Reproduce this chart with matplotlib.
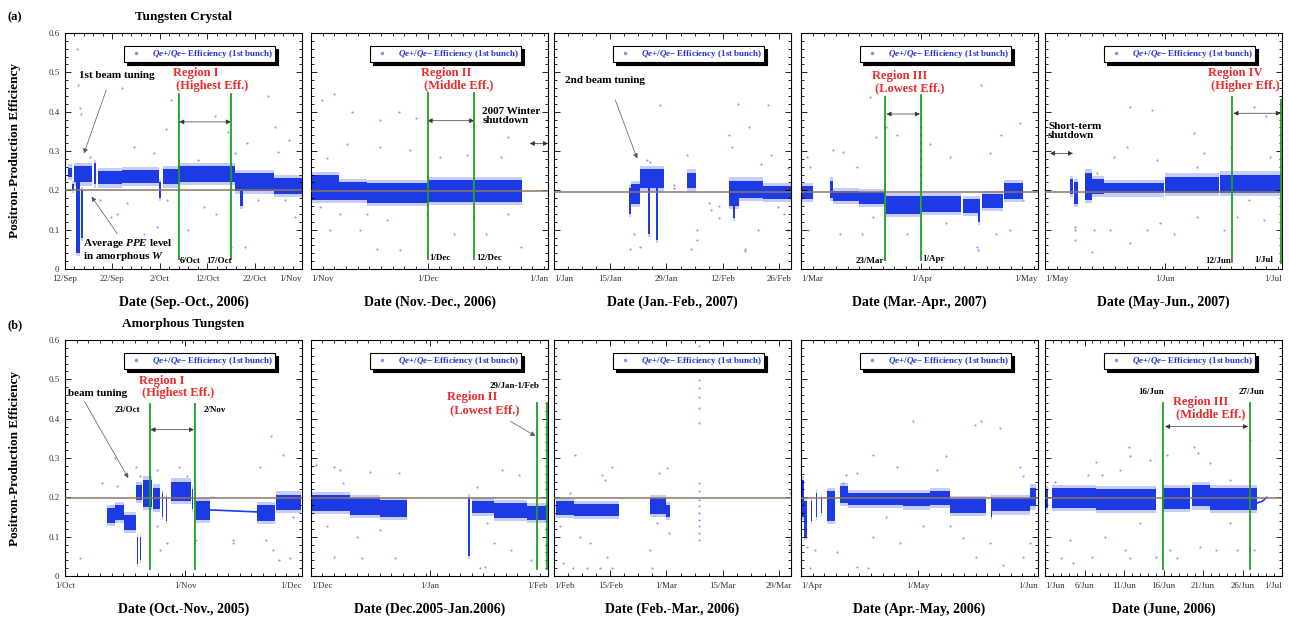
import matplotlib
matplotlib.use("Agg")
import matplotlib.pyplot as plt
import matplotlib.dates as mdates
from matplotlib.lines import Line2D
import numpy as np

plt.rcParams["font.family"] = ["Liberation Serif", "DejaVu Serif"]
plt.rcParams["mathtext.fontset"] = "custom"
plt.rcParams["mathtext.it"] = "Liberation Serif:italic:bold"
plt.rcParams["mathtext.rm"] = "Liberation Serif:bold"
plt.rcParams["mathtext.bf"] = "Liberation Serif:bold"

BLUE = "#1c3be4"
LIGHT = "#8591f0"
GREEN = "#1f9e1f"
AVG = "#8c766a"
RED = "#ee2b2b"
LEG_TXT = "#2233dd"

# ---- data: dense bands (day0, day1, low, high) and scattered points (day, value)
# days are counted from the first date of each panel
A1_TICKS = ["2006-09-12", "2006-09-22", "2006-10-02", "2006-10-12", "2006-10-22", "2006-11-01"]
A1_BAND = [(0.6, 1.4, 0.235, 0.258), (1.4, 1.8, 0.200, 0.215), (2.0, 5.6, 0.220, 0.262),
           (2.4, 3.2, 0.040, 0.220), (3.4, 3.7, 0.080, 0.200), (6.2, 6.6, 0.215, 0.270),
           (7.0, 12.0, 0.215, 0.250), (12.0, 19.9, 0.218, 0.252), (19.9, 20.3, 0.180, 0.220),
           (20.6, 23.8, 0.215, 0.255), (23.8, 35.8, 0.222, 0.262), (35.8, 44.0, 0.198, 0.243),
           (37.0, 37.5, 0.160, 0.200), (44.0, 50.4, 0.190, 0.232)]
A1_PTS = [(2.6, 0.56), (2.8, 0.468), (3.1, 0.41), (3.4, 0.395), (12.1, 0.46), (22.3, 0.43),
          (21.3, 0.357), (31.6, 0.39), (44.3, 0.36), (42.9, 0.44), (45.0, 0.298), (9.6, 0.133),
          (11.0, 0.14), (16.7, 0.09), (25.9, 0.099), (35.1, 0.056), (37.9, 0.056), (29.4, 0.158),
          (48.6, 0.133), (14.5, 0.31), (35.8, 0.294), (18.8, 0.294), (5.3, 0.285), (28.0, 0.277),
          (34.4, 0.349), (38.3, 0.32), (47.2, 0.328), (40.8, 0.175), (46.5, 0.175), (21.6, 0.175),
          (13.1, 0.167), (7.4, 0.175), (31.9, 0.141), (19.5, 0.107)]

A2_TICKS = ["2006-11-01", "2006-12-01", "2007-01-01"]
A2_BAND = [(0.0, 7.1, 0.176, 0.238), (7.3, 14.3, 0.176, 0.222), (14.5, 30.0, 0.168, 0.218),
           (30.0, 37.5, 0.171, 0.226), (37.7, 41.8, 0.171, 0.226), (42.0, 54.4, 0.171, 0.226)]
A2_PTS = [(5.8, 0.444), (2.8, 0.43), (10.5, 0.40), (22.6, 0.40), (17.8, 0.378), (26.9, 0.383),
          (4.0, 0.281), (9.2, 0.319), (17.8, 0.31), (25.6, 0.302), (33.3, 0.285), (48.8, 0.285),
          (50.6, 0.336), (40.2, 0.29), (4.9, 0.099), (12.7, 0.099), (17.0, 0.052), (23.0, 0.048),
          (36.8, 0.09), (45.0, 0.09), (54.0, 0.056), (50.6, 0.141), (29.9, 0.141), (19.6, 0.124),
          (7.5, 0.141), (2.3, 0.158), (42.0, 0.133), (14.4, 0.141)]

A3_TICKS = ["2007-01-01", "2007-01-15", "2007-01-29", "2007-02-12", "2007-02-26"]
A3_BAND = [(18.6, 19.2, 0.140, 0.205), (19.2, 21.4, 0.165, 0.215), (21.5, 27.3, 0.205, 0.255),
           (23.5, 23.9, 0.090, 0.205), (25.5, 25.9, 0.075, 0.205), (33.2, 35.4, 0.205, 0.245),
           (43.6, 46.1, 0.160, 0.225), (44.6, 45.0, 0.130, 0.170), (46.1, 52.0, 0.180, 0.225),
           (52.0, 59.0, 0.178, 0.210)]
A3_PTS = [(19.0, 0.052), (21.5, 0.056), (24.0, 0.273), (26.3, 0.417), (33.2, 0.29), (34.0, 0.052),
          (35.7, 0.099), (35.7, 0.073), (38.6, 0.167), (39.0, 0.15), (29.8, 0.213), (29.9, 0.205),
          (43.6, 0.34), (44.4, 0.31), (45.7, 0.42), (48.6, 0.362), (50.7, 0.099), (47.5, 0.052),
          (47.5, 0.045), (51.5, 0.268), (53.2, 0.417), (54.0, 0.29), (58.2, 0.256), (58.2, 0.099),
          (57.3, 0.141), (55.7, 0.158), (19.8, 0.09), (23.2, 0.277), (41.0, 0.16), (41.0, 0.13)]

A4_TICKS = ["2007-03-01", "2007-04-01", "2007-05-01"]
A4_BAND = [(0.0, 3.2, 0.178, 0.210), (7.5, 8.2, 0.180, 0.225), (8.2, 15.0, 0.172, 0.198),
           (15.0, 21.6, 0.165, 0.195), (22.0, 30.6, 0.140, 0.185), (30.8, 41.3, 0.145, 0.185),
           (41.8, 46.0, 0.142, 0.178), (45.6, 46.0, 0.120, 0.160), (46.5, 52.0, 0.155, 0.190),
           (52.2, 57.2, 0.178, 0.218)]
A4_PTS = [(1.5, 0.285), (2.3, 0.26), (1.9, 0.099), (10.9, 0.298), (17.7, 0.438), (19.4, 0.336),
          (22.0, 0.362), (24.6, 0.34), (38.3, 0.285), (46.4, 0.468), (48.6, 0.294), (51.6, 0.34),
          (56.3, 0.37), (10.0, 0.09), (15.6, 0.09), (18.6, 0.133), (27.2, 0.09), (37.4, 0.116),
          (45.2, 0.056), (45.6, 0.048), (50.3, 0.09), (53.9, 0.099), (8.3, 0.302), (14.3, 0.26),
          (33.2, 0.319), (57.2, 0.175), (31.0, 0.383), (31.0, 0.36), (31.0, 0.34), (31.0, 0.32),
          (31.0, 0.30), (31.0, 0.28), (31.0, 0.26), (31.0, 0.24), (31.0, 0.22)]

A5_TICKS = ["2007-05-01", "2007-06-01", "2007-07-01"]
A5_BAND = [(6.5, 7.2, 0.190, 0.228), (7.4, 8.6, 0.165, 0.220), (10.3, 12.1, 0.175, 0.245),
           (12.1, 15.1, 0.190, 0.228), (15.1, 30.6, 0.192, 0.218), (31.0, 44.8, 0.193, 0.235),
           (45.0, 60.7, 0.193, 0.240)]
A5_PTS = [(21.9, 0.413), (27.6, 0.404), (21.1, 0.311), (28.8, 0.277), (38.3, 0.345), (39.2, 0.26),
          (40.9, 0.294), (47.8, 0.311), (53.8, 0.413), (56.9, 0.39), (57.8, 0.285), (17.7, 0.285),
          (13.4, 0.243), (12.5, 0.099), (12.1, 0.044), (16.8, 0.099), (22.0, 0.065), (26.3, 0.099),
          (29.7, 0.116), (33.2, 0.09), (39.2, 0.133), (46.1, 0.099), (49.5, 0.133), (56.4, 0.124),
          (52.6, 0.175), (7.8, 0.099), (7.8, 0.107), (7.6, 0.073)]

B1_TICKS = ["2005-10-01", "2005-11-01", "2005-12-01"]
B1_BAND = [(10.7, 12.9, 0.134, 0.172), (12.9, 15.2, 0.143, 0.181), (15.3, 18.3, 0.118, 0.155),
           (18.4, 19.7, 0.194, 0.232), (18.5, 18.8, 0.030, 0.100), (19.2, 19.5, 0.040, 0.100),
           (20.1, 22.5, 0.175, 0.245), (22.6, 24.5, 0.170, 0.225), (25.0, 25.3, 0.150, 0.210),
           (26.0, 26.3, 0.140, 0.200), (27.4, 32.4, 0.190, 0.240), (32.6, 32.9, 0.170, 0.220),
           (33.6, 37.3, 0.143, 0.190), (49.3, 54.0, 0.140, 0.180), (54.2, 60.8, 0.168, 0.207)]
B1_LINE_X = [37.3, 49.3]
B1_LINE_Y = [0.168, 0.163]
B1_PTS = [(3.9, 0.045), (12.9, 0.3), (9.6, 0.236), (18.4, 0.278), (19.3, 0.253), (23.6, 0.27),
          (29.3, 0.278), (31.3, 0.253), (23.6, 0.126), (26.2, 0.083), (24.4, 0.066), (33.8, 0.092),
          (43.3, 0.083), (50.1, 0.278), (51.8, 0.092), (53.5, 0.066), (55.2, 0.041), (53.1, 0.355),
          (56.1, 0.308), (57.8, 0.045), (58.7, 0.151), (13.3, 0.228), (37.9, 0.202), (43.3, 0.092)]

B2_TICKS = ["2005-12-01", "2006-01-01", "2006-02-01"]
B2_BAND = [(0.2, 10.2, 0.165, 0.205), (10.2, 18.0, 0.155, 0.198), (18.0, 25.1, 0.150, 0.192),
           (41.1, 41.7, 0.050, 0.200), (42.2, 47.9, 0.160, 0.190), (47.9, 56.6, 0.148, 0.186),
           (56.6, 62.0, 0.142, 0.177)]
B2_PTS = [(1.2, 0.283), (5.9, 0.278), (7.6, 0.27), (15.5, 0.265), (23.0, 0.261), (8.5, 0.236),
          (13.3, 0.045), (5.9, 0.049), (4.1, 0.126), (18.1, 0.117), (12.0, 0.1), (22.1, 0.045),
          (44.2, 0.02), (45.6, 0.024), (50.0, 0.27), (54.4, 0.257), (47.9, 0.083), (52.2, 0.066),
          (57.5, 0.041), (59.2, 0.1), (43.5, 0.227), (46.1, 0.134)]

B3_TICKS = ["2006-02-01", "2006-02-15", "2006-03-01", "2006-03-15", "2006-03-29"]
B3_BAND = [(0.5, 5.0, 0.155, 0.190), (5.0, 16.1, 0.152, 0.182), (23.8, 28.0, 0.158, 0.198),
           (28.0, 28.8, 0.150, 0.180)]
B3_PTS = [(5.25, 0.308), (4.0, 0.21), (11.9, 0.257), (14.4, 0.278), (12.8, 0.244), (24.0, 0.066),
          (24.4, 0.02), (26.1, 0.261), (28.2, 0.274), (4.8, 0.02), (8.2, 0.02), (11.5, 0.02),
          (14.4, 0.02), (2.3, 0.033), (9.0, 0.083), (13.2, 0.049), (6.5, 0.1), (1.5, 0.126),
          (28.6, 0.109), (25.7, 0.134), (58.7, 0.21), (58.7, 0.083), (58.7, 0.066), (58.5, 0.092),
          (36.2, 0.584), (36.2, 0.563), (36.2, 0.541), (36.2, 0.52), (36.2, 0.499), (36.2, 0.478),
          (36.2, 0.456), (36.2, 0.427), (36.2, 0.389), (36.2, 0.236), (36.2, 0.215), (36.2, 0.194),
          (36.2, 0.177), (36.2, 0.16), (36.2, 0.143), (36.2, 0.126), (36.2, 0.109), (36.2, 0.092)]

B4_TICKS = ["2006-04-01", "2006-05-01", "2006-06-01"]
B4_BAND = [(0.0, 0.7, 0.150, 0.245), (0.7, 1.5, 0.100, 0.190), (2.6, 2.9, 0.140, 0.190),
           (3.9, 4.2, 0.150, 0.210), (5.2, 5.5, 0.160, 0.200), (6.8, 8.7, 0.140, 0.215),
           (10.0, 12.2, 0.185, 0.228), (12.2, 26.3, 0.181, 0.210), (26.3, 33.2, 0.177, 0.210),
           (33.2, 38.3, 0.181, 0.215), (38.3, 47.7, 0.160, 0.196), (48.9, 49.2, 0.150, 0.200),
           (49.2, 58.9, 0.164, 0.198), (58.9, 60.6, 0.177, 0.225)]
B4_PTS = [(1.5, 0.075), (2.3, 0.02), (3.7, 0.066), (9.2, 0.062), (11.7, 0.257), (14.3, 0.261),
          (18.6, 0.308), (24.6, 0.278), (28.9, 0.393), (34.9, 0.27), (37.4, 0.304), (44.7, 0.384),
          (46.4, 0.393), (51.2, 0.376), (56.3, 0.278), (57.2, 0.253), (22.0, 0.151), (18.6, 0.1),
          (14.3, 0.024), (17.3, 0.02), (25.4, 0.083), (31.4, 0.126), (41.7, 0.096), (45.1, 0.049),
          (48.6, 0.083), (52.0, 0.028), (57.2, 0.049), (58.9, 0.083), (10.9, 0.236), (38.3, 0.126)]

B5_TICKS = ["2006-06-01", "2006-06-06", "2006-06-11", "2006-06-16", "2006-06-21", "2006-06-26",
            "2006-07-01"]
B5_BAND = [(0.0, 0.4, 0.172, 0.220), (0.85, 6.5, 0.172, 0.224), (6.5, 14.1, 0.168, 0.220),
           (14.8, 18.4, 0.170, 0.223), (18.6, 20.9, 0.177, 0.232), (20.9, 26.8, 0.168, 0.223)]
B5_LINE_X = [26.8, 27.5, 28.1]
B5_LINE_Y = [0.185, 0.19, 0.2]
B5_PTS = [(10.6, 0.329), (10.8, 0.304), (6.5, 0.291), (5.5, 0.257), (7.2, 0.257), (9.5, 0.27),
          (13.3, 0.295), (15.5, 0.308), (18.8, 0.329), (19.4, 0.312), (20.9, 0.287), (23.4, 0.244),
          (25.9, 0.346), (1.3, 0.24), (3.2, 0.092), (2.0, 0.045), (3.6, 0.033), (5.9, 0.049),
          (10.1, 0.066), (10.8, 0.045), (14.1, 0.049), (15.8, 0.066), (16.7, 0.045), (19.6, 0.075),
          (21.7, 0.066), (24.3, 0.066), (26.4, 0.066), (7.6, 0.1), (12.0, 0.134), (23.4, 0.134)]

AVG_A = [0.200, 0.199, 0.197, 0.195, 0.195]
AVG_B = [0.199, 0.198, 0.198, 0.198, 0.198]
MINOR_A = [2, 3, 3.5, 3, 3]
MINOR_B = [3, 3, 3.5, 3, 1]
XLAB_A = ["Date (Sep.-Oct., 2006)", "Date (Nov.-Dec., 2006)", "Date (Jan.-Feb., 2007)",
          "Date (Mar.-Apr., 2007)", "Date (May-Jun., 2007)"]
XLAB_B = ["Date (Oct.-Nov., 2005)", "Date (Dec.2005-Jan.2006)", "Date (Feb.-Mar., 2006)",
          "Date (Apr.-May, 2006)", "Date (June, 2006)"]
END_A = ["2006-11-01", "2007-01-01", "2007-03-01", "2007-05-01", "2007-07-01"]
END_B = ["2005-12-01", "2006-02-01", "2006-04-01", "2006-06-01", "2006-07-01"]

TICKS_A = [A1_TICKS, A2_TICKS, A3_TICKS, A4_TICKS, A5_TICKS]
TICKS_B = [B1_TICKS, B2_TICKS, B3_TICKS, B4_TICKS, B5_TICKS]
BANDS_A = [A1_BAND, A2_BAND, A3_BAND, A4_BAND, A5_BAND]
BANDS_B = [B1_BAND, B2_BAND, B3_BAND, B4_BAND, B5_BAND]
PTS_A = [A1_PTS, A2_PTS, A3_PTS, A4_PTS, A5_PTS]
PTS_B = [B1_PTS, B2_PTS, B3_PTS, B4_PTS, B5_PTS]

LEG_LABEL = r"$Qe{+}/Qe{-}$ Efficiency (1st bunch)"

W, H = 1289, 622
fig = plt.figure(figsize=(W / 100, H / 100), dpi=100)
LEFTS = [65, 311, 554, 801, 1045]
PW, PH = 237, 236
TOPS = [33, 340]


def panel(row, col, ticks, end, band, pts, avg, minor, xlabel):
    left, top = LEFTS[col], TOPS[row]
    ax = fig.add_axes([left / W, 1 - (top + PH) / H, PW / W, PH / H])
    x0 = mdates.datestr2num(ticks[0])
    x1 = mdates.datestr2num(end)
    for d0, d1, lo, hi in band:
        ax.fill_between([x0 + d0, x0 + d1], lo - 0.008, hi + 0.008, color=BLUE, alpha=0.25, lw=0)
        ax.fill_between([x0 + d0, x0 + d1], lo, hi, color=BLUE, lw=0)
    px = x0 + np.array([p[0] for p in pts])
    py = np.array([p[1] for p in pts])
    ax.scatter(px, py, s=2.5, color=LIGHT, lw=0, alpha=0.9)
    ax.axhline(avg, color=AVG, lw=1.1, zorder=4)
    ax.set_xlim(x0, x1)
    ax.set_ylim(0, 0.6)
    tnum = [mdates.datestr2num(t) for t in ticks]
    labels = []
    for t in tnum:
        d = mdates.num2date(t)
        labels.append(f"{d.day}/{d:%b}")
    ax.set_xticks(tnum, labels)
    ax.set_xticks(np.arange(x0, x1, minor), minor=True)
    ax.set_yticks(np.arange(0, 0.61, 0.1))
    ax.set_yticks(np.arange(0, 0.6, 0.02), minor=True)
    ax.tick_params(which="both", direction="in", top=True, right=True, width=0.6,
                   labelsize=6.5, labelcolor="#333333", pad=4)
    ax.tick_params(which="major", length=4)
    ax.tick_params(which="minor", length=2)
    if col == 0:
        ax.set_yticklabels(["0", "0.1", "0.2", "0.3", "0.4", "0.5", "0.6"])
    else:
        ax.tick_params(labelleft=False)
    for t, lab in zip(tnum, ax.get_xticklabels()):
        if t == x0 and col > 0:
            lab.set_ha("left")
        elif abs(t - x1) < 0.5:
            lab.set_ha("right")
    for s in ax.spines.values():
        s.set_linewidth(0.8)
    ax.set_xlabel(xlabel, fontsize=10, fontweight="bold", labelpad=9)
    h = Line2D([], [], ls="none", marker="o", ms=1.5, color=LIGHT)
    leg = ax.legend(handles=[h], labels=[LEG_LABEL], loc="upper right",
                    bbox_to_anchor=(0.905, 0.962), fancybox=False, framealpha=1,
                    edgecolor="black", shadow={"facecolor": "black", "edgecolor": "black",
                                               "alpha": 1},
                    prop={"weight": "bold", "size": 6.5}, labelcolor=LEG_TXT,
                    handlelength=2.2, handletextpad=0.6, borderpad=0.2)
    leg.get_frame().set_linewidth(0.8)
    leg.set_zorder(10)
    return ax, x0


def green(ax, x0, d, lo, hi):
    ax.plot([x0 + d, x0 + d], [lo, hi], color=GREEN, lw=1.3, zorder=6, clip_on=False)


def span(ax, x0, d0, d1, y):
    ax.annotate("", xy=(x0 + d1, y), xytext=(x0 + d0, y), annotation_clip=False,
                arrowprops=dict(arrowstyle="<|-|>", color="#333333", lw=0.5,
                                mutation_scale=7, shrinkA=0, shrinkB=0))


def pointer(ax, x0, d0, y0, d1, y1):
    ax.annotate("", xy=(x0 + d1, y1), xytext=(x0 + d0, y0), annotation_clip=False,
                arrowprops=dict(arrowstyle="-|>", color="#555555", lw=0.5,
                                mutation_scale=7, shrinkA=0, shrinkB=0))


def label(ax, x0, d, y, s, size=8, color="black", ha="left", va="center", **kw):
    ax.text(x0 + d, y, s, fontsize=size, fontweight="bold", color=color, ha=ha, va=va,
            clip_on=False, zorder=8, linespacing=1.05, **kw)


axA, axB = [], []
for i in range(5):
    axA.append(panel(0, i, TICKS_A[i], END_A[i], BANDS_A[i], PTS_A[i], AVG_A[i], MINOR_A[i],
                     XLAB_A[i]))
    axB.append(panel(1, i, TICKS_B[i], END_B[i], BANDS_B[i], PTS_B[i], AVG_B[i], MINOR_B[i],
                     XLAB_B[i]))

# ---- row (a): tungsten crystal
ax, x0 = axA[0]
label(ax, x0, 3.0, 0.493, "1st beam tuning")
pointer(ax, x0, 8.7, 0.455, 4.0, 0.294)
label(ax, x0, 3.8, 0.048, "Average $PPE$ level\nin amorphous $W$")
pointer(ax, x0, 11.0, 0.09, 5.6, 0.184)
label(ax, x0, 22.8, 0.482, "Region I\n (Highest Eff.)", size=9, color=RED)
span(ax, x0, 24.1, 35.0, 0.374)
green(ax, x0, 24.0, 0.025, 0.445)
green(ax, x0, 35.0, 0.025, 0.445)
label(ax, x0, 24.3, 0.021, "6/Oct", size=6.5)
label(ax, x0, 35.3, 0.021, "17/Oct", size=6.5, ha="right")

ax, x0 = axA[1]
label(ax, x0, 28.2, 0.483, "Region II\n (Middle Eff.)", size=9, color=RED)
span(ax, x0, 30.0, 42.0, 0.377)
green(ax, x0, 30.0, 0.025, 0.447)
green(ax, x0, 42.0, 0.025, 0.447)
label(ax, x0, 30.4, 0.027, "1/Dec", size=6.5)
label(ax, x0, 42.6, 0.027, "12/Dec", size=6.5)
label(ax, x0, 44.1, 0.389, "2007 Winter\nshutdown")
span(ax, x0, 56.3, 61.0, 0.319)

ax, x0 = axA[2]
label(ax, x0, 2.75, 0.478, "2nd beam tuning")
pointer(ax, x0, 15.25, 0.43, 20.7, 0.281)

ax, x0 = axA[3]
label(ax, x0, 18.2, 0.476, "Region III\n (Lowest Eff.)", size=9, color=RED)
span(ax, x0, 22.0, 30.6, 0.394)
green(ax, x0, 21.7, 0.022, 0.437)
green(ax, x0, 30.8, 0.022, 0.443)
label(ax, x0, 21.5, 0.02, "23/Mar", size=6.5, ha="right")
label(ax, x0, 31.2, 0.025, "1/Apr", size=6.5)

ax, x0 = axA[4]
label(ax, x0, 0.8, 0.351, "Short-term\nshutdown")
span(ax, x0, 1.3, 7.2, 0.294)
label(ax, x0, 41.9, 0.482, "Region IV\n (Higher Eff.)", size=9, color=RED)
span(ax, x0, 48.5, 60.7, 0.396)
green(ax, x0, 48.1, 0.019, 0.437)
green(ax, x0, 60.85, 0.015, 0.43)
label(ax, x0, 48.0, 0.02, "12/Jun", size=6.5, ha="right")
label(ax, x0, 58.8, 0.022, "1/Jul", size=6.5, ha="right")

# ---- row (b): amorphous tungsten
ax, x0 = axB[0]
ax.plot(x0 + np.array(B1_LINE_X), B1_LINE_Y, color=BLUE, lw=1.2, zorder=3)
label(ax, x0, 0.8, 0.465, "beam tuning")
pointer(ax, x0, 5.0, 0.444, 16.3, 0.249)
label(ax, x0, 19.0, 0.48, "Region I\n (Highest Eff.)", size=9, color=RED)
span(ax, x0, 22.0, 33.2, 0.372)
green(ax, x0, 21.8, 0.018, 0.437)
green(ax, x0, 33.4, 0.018, 0.437)
label(ax, x0, 19.3, 0.423, "23/Oct", size=6.5, ha="right")
label(ax, x0, 35.7, 0.423, "2/Nov", size=6.5)

ax, x0 = axB[1]
label(ax, x0, 59.7, 0.484, "29/Jan-1/Feb", size=6.5, ha="right")
label(ax, x0, 35.6, 0.438, "Region II\n (Lowest Eff.)", size=9, color=RED)
pointer(ax, x0, 52.2, 0.393, 58.7, 0.356)
green(ax, x0, 59.0, 0.018, 0.44)
green(ax, x0, 61.85, 0.018, 0.44)

ax, x0 = axB[4]
ax.plot(x0 + np.array(B5_LINE_X), B5_LINE_Y, color=BLUE, lw=1.2, zorder=3)
label(ax, x0, 13.4, 0.469, "16/Jun", size=6.5, ha="center")
label(ax, x0, 26.2, 0.469, "27/Jun", size=6.5, ha="center")
label(ax, x0, 16.2, 0.427, "Region III\n (Middle Eff.)", size=9, color=RED)
span(ax, x0, 15.2, 25.7, 0.38)
green(ax, x0, 14.9, 0.018, 0.44)
green(ax, x0, 25.9, 0.018, 0.44)

# ---- row titles and shared y labels
fig.text(15 / W, 1 - 17 / H, "(a)", fontsize=9, fontweight="bold", ha="center", va="center")
fig.text(183 / W, 1 - 17 / H, "Tungsten Crystal", fontsize=9.5, fontweight="bold",
         ha="center", va="center")
fig.text(15 / W, 1 - 325 / H, "(b)", fontsize=9, fontweight="bold", ha="center", va="center")
fig.text(183 / W, 1 - 324 / H, "Amorphous Tungsten", fontsize=9.5, fontweight="bold",
         ha="center", va="center")
for yc in (151, 458):
    fig.text(15 / W, 1 - yc / H, "Positron-Production Efficiency", fontsize=9.5,
             fontweight="bold", rotation=90, ha="center", va="center")

fig.savefig("out.png", dpi=100)
